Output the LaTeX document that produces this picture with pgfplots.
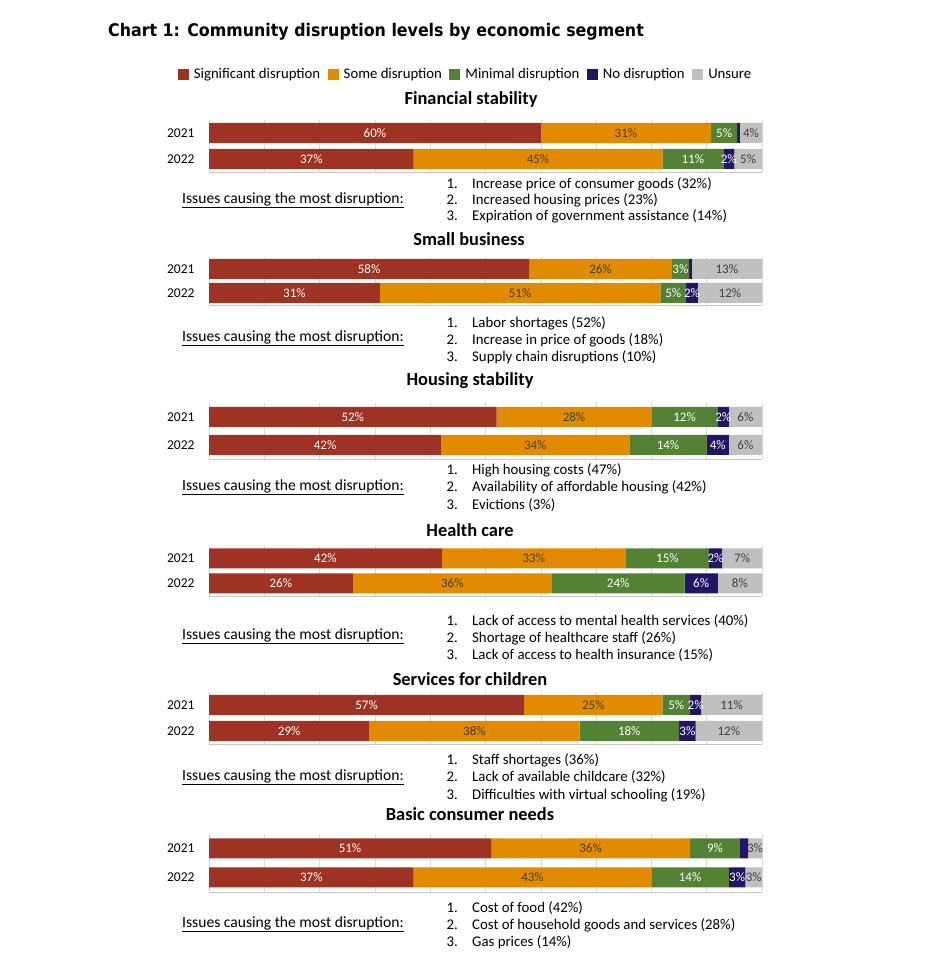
\documentclass[border=0pt]{standalone}
\usepackage{fontspec}
\setmainfont{Carlito}
\newfontfamily\titlefont[FakeStretch=0.91]{DejaVu Sans}
\usepackage{pgfplots}
\pgfplotsset{compat=1.18}
\definecolor{cSig}{RGB}{158,51,35}
\definecolor{cSome}{RGB}{226,138,0}
\definecolor{cMin}{RGB}{84,130,53}
\definecolor{cNo}{RGB}{33,22,100}
\definecolor{cUns}{RGB}{192,192,192}
\definecolor{cTxt}{RGB}{64,64,64}
\newcommand\fs[1]{\fontsize{#1}{#1}\selectfont}
\pgfplotsset{
  panel/.style={
    xbar stacked,
    scale only axis,
    anchor=north west,
    width=553pt,
    xmin=0, xmax=100,
    ymin=-0.5, ymax=1.5,
    bar width=20pt,
    axis line style={draw=none},
    xtick={0,10,...,100},
    xticklabels={},
    xmajorgrids,
    grid style={gray!30, line width=0.6pt},
    major tick length=0pt,
    ytick={0,1}, yticklabels={2022,2021},
    yticklabel style={font=\fs{13.5}, xshift=-11pt},
    point meta=explicit symbolic,
    nodes near coords={\pgfplotspointmeta},
    every node near coord/.append style={font=\fs{13}},
    clip=false,
  },
  sig/.style={fill=cSig, draw=none, every node near coord/.append style={text=white}},
  some/.style={fill=cSome, draw=none, every node near coord/.append style={text=cTxt}},
  mini/.style={fill=cMin, draw=none, every node near coord/.append style={text=white}},
  nodis/.style={fill=cNo, draw=none, every node near coord/.append style={text=white}},
  uns/.style={fill=cUns, draw=none, every node near coord/.append style={text=cTxt}},
}
\newcommand\panelbase{\draw[gray!45, line width=0.6pt] (rel axis cs:0,0) -- (rel axis cs:1,0);}
\begin{document}
\begin{tikzpicture}
\useasboundingbox (0pt,0pt) rectangle (925pt,961pt);
\node[anchor=west, inner sep=0pt] at (108pt,929pt) {\titlefont\bfseries\fs{17.4}Chart 1: Community disruption levels by economic segment};

% Panel 1
\begin{axis}[panel, at={(209pt,841pt)}, height=52pt,
  legend style={at={(0.464,1.88)}, anchor=center, draw=none, fill=none, font=\fs{14.75},
    legend columns=-1,
    /tikz/every odd column/.append style={column sep=3pt},
    /tikz/every even column/.append style={column sep=5.5pt}},
  legend image code/.code={\fill[#1] (0pt,-5.5pt) rectangle (11pt,5.5pt);}]
\panelbase
\addplot[sig] coordinates {(60,1) [60\%] (37,0) [37\%]};
\addplot[some] coordinates {(30.8,1) [31\%] (45,0) [45\%]};
\addplot[mini] coordinates {(4.7,1) [5\%] (11,0) [11\%]};
\addplot[nodis] coordinates {(0.5,1) [] (2,0) [2\%]};
\addplot[uns] coordinates {(4,1) [4\%] (5,0) [5\%]};
\legend{Significant disruption, Some disruption, Minimal disruption, No disruption, Unsure}
\end{axis}

% Panel 2
\begin{axis}[panel, at={(209pt,704pt)}, height=48pt]
\panelbase
\addplot[sig] coordinates {(57.9,1) [58\%] (30.9,0) [31\%]};
\addplot[some] coordinates {(25.8,1) [26\%] (50.7,0) [51\%]};
\addplot[mini] coordinates {(3.1,1) [3\%] (4.7,0) [5\%]};
\addplot[nodis] coordinates {(0.5,1) [] (2.1,0) [2\%]};
\addplot[uns] coordinates {(12.7,1) [13\%] (11.6,0) [12\%]};
\end{axis}

% Panel 3
\begin{axis}[panel, at={(209pt,558pt)}, height=56pt]
\panelbase
\addplot[sig] coordinates {(52,1) [52\%] (42,0) [42\%]};
\addplot[some] coordinates {(28,1) [28\%] (34,0) [34\%]};
\addplot[mini] coordinates {(12,1) [12\%] (14,0) [14\%]};
\addplot[nodis] coordinates {(2,1) [2\%] (4,0) [4\%]};
\addplot[uns] coordinates {(6,1) [6\%] (6,0) [6\%]};
\end{axis}

% Panel 4
\begin{axis}[panel, at={(209pt,415pt)}, height=50pt]
\panelbase
\addplot[sig] coordinates {(42.1,1) [42\%] (26,0) [26\%]};
\addplot[some] coordinates {(33.3,1) [33\%] (36,0) [36\%]};
\addplot[mini] coordinates {(15,1) [15\%] (24,0) [24\%]};
\addplot[nodis] coordinates {(2.4,1) [2\%] (6,0) [6\%]};
\addplot[uns] coordinates {(7.2,1) [7\%] (8,0) [8\%]};
\end{axis}

% Panel 5
\begin{axis}[panel, at={(209pt,269pt)}, height=52pt]
\panelbase
\addplot[sig] coordinates {(57,1) [57\%] (29,0) [29\%]};
\addplot[some] coordinates {(25,1) [25\%] (38,0) [38\%]};
\addplot[mini] coordinates {(5,1) [5\%] (18,0) [18\%]};
\addplot[nodis] coordinates {(2,1) [2\%] (3,0) [3\%]};
\addplot[uns] coordinates {(11,1) [11\%] (12,0) [12\%]};
\end{axis}

% Panel 6
\begin{axis}[panel, at={(209pt,127pt)}, height=58pt]
\panelbase
\addplot[sig] coordinates {(51,1) [51\%] (37,0) [37\%]};
\addplot[some] coordinates {(36,1) [36\%] (43,0) [43\%]};
\addplot[mini] coordinates {(9,1) [9\%] (14,0) [14\%]};
\addplot[nodis] coordinates {(1.5,1) [] (3,0) [3\%]};
\addplot[uns] coordinates {(2.5,1) [3\%] (3,0) [3\%]};
\end{axis}

% Panel titles
\begin{scope}[every node/.style={font=\bfseries\fs{18.4}}]
\node at (471pt,861pt) {Financial stability};
\node at (469pt,722pt) {Small business};
\node at (470pt,580pt) {Housing stability};
\node at (470pt,431pt) {Health care};
\node at (470pt,282pt) {Services for children};
\node at (470pt,147pt) {Basic consumer needs};
\end{scope}

% Issue lists
\newcommand\issues[1]{\node[anchor=west, font=\fs{15.6}, inner sep=0pt] at (182pt,#1) {\underline{Issues causing the most disruption:}};}
\newcommand\issueitem[3]{\node[anchor=east, font=\fs{14.8}, inner sep=0pt] at (458pt,#1) {#2.}; \node[anchor=west, font=\fs{14.8}, inner sep=0pt] at (472pt,#1) {#3};}
\issues{761pt}
\issueitem{777pt}{1}{Increase price of consumer goods (32\%)}
\issueitem{761pt}{2}{Increased housing prices (23\%)}
\issueitem{745pt}{3}{Expiration of government assistance (14\%)}
\issues{623pt}
\issueitem{638pt}{1}{Labor shortages (52\%)}
\issueitem{621pt}{2}{Increase in price of goods (18\%)}
\issueitem{604pt}{3}{Supply chain disruptions (10\%)}
\issues{474pt}
\issueitem{491pt}{1}{High housing costs (47\%)}
\issueitem{474pt}{2}{Availability of affordable housing (42\%)}
\issueitem{456pt}{3}{Evictions (3\%)}
\issues{325pt}
\issueitem{340pt}{1}{Lack of access to mental health services (40\%)}
\issueitem{323pt}{2}{Shortage of healthcare staff (26\%)}
\issueitem{306pt}{3}{Lack of access to health insurance (15\%)}
\issues{184pt}
\issueitem{201pt}{1}{Staff shortages (36\%)}
\issueitem{184pt}{2}{Lack of available childcare (32\%)}
\issueitem{166pt}{3}{Difficulties with virtual schooling (19\%)}
\issues{37pt}
\issueitem{53pt}{1}{Cost of food (42\%)}
\issueitem{36pt}{2}{Cost of household goods and services (28\%)}
\issueitem{19pt}{3}{Gas prices (14\%)}
\end{tikzpicture}
\end{document}
